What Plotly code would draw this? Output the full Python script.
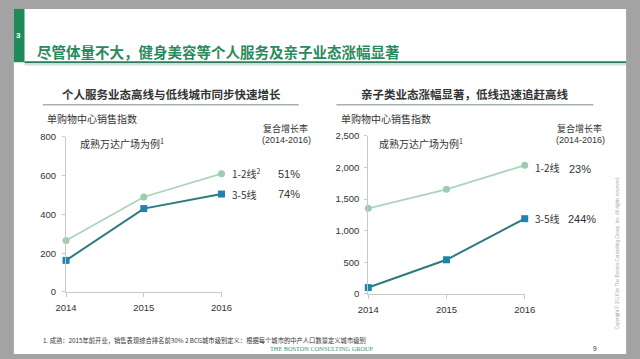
import plotly.graph_objects as go

W, H = 640, 359

years = [2014, 2015, 2016]
left_hi = [265, 490, 610]      # 1-2线
left_lo = [163, 430, 505]      # 3-5线
right_hi = [1355, 1655, 2035]  # 1-2线
right_lo = [100, 540, 1190]    # 3-5线
left_cagr = ["51%", "74%"]
right_cagr = ["23%", "244%"]

title = "尽管体量不大，健身美容等个人服务及亲子业态涨幅显著"
sub_left = "个人服务业态高线与低线城市同步快速增长"
sub_right = "亲子类业态涨幅显著，低线迅速追赶高线"
ylab = "单购物中心销售指数"
note = "成熟万达广场为例<sup>1</sup>"
cagr_title = "复合增长率"
cagr_period = "(2014-2016)"
footnote = "1. 成熟：2015年前开业，销售表现综合排名前30% 2 BCG城市级别定义：根据每个城市的中产人口数量定义城市级别"

HI_LINE = "#a9d6ba"
HI_MARK = "#9ccdb0"
LO_LINE = "#2b7b80"
LO_MARK = "#1f84aa"
GREEN = "#2a8a5c"
TXT = "#333333"
CJK = "Noto Sans CJK SC"
LAT = "Liberation Sans, Arial"

def px(x):
    return x / W

def py(y):
    return 1 - y / H

fig = go.Figure()

fig.add_trace(go.Scatter(x=years, y=left_hi, mode="lines+markers", xaxis="x", yaxis="y",
                         line=dict(color=HI_LINE, width=1.8),
                         marker=dict(symbol="circle", size=7, color=HI_MARK),
                         cliponaxis=False, showlegend=False))
fig.add_trace(go.Scatter(x=years, y=left_lo, mode="lines+markers", xaxis="x", yaxis="y",
                         line=dict(color=LO_LINE, width=2),
                         marker=dict(symbol="square", size=7, color=LO_MARK),
                         cliponaxis=False, showlegend=False))
fig.add_trace(go.Scatter(x=years, y=right_hi, mode="lines+markers", xaxis="x2", yaxis="y2",
                         line=dict(color=HI_LINE, width=1.8),
                         marker=dict(symbol="circle", size=7, color=HI_MARK),
                         cliponaxis=False, showlegend=False))
fig.add_trace(go.Scatter(x=years, y=right_lo, mode="lines+markers", xaxis="x2", yaxis="y2",
                         line=dict(color=LO_LINE, width=2),
                         marker=dict(symbol="square", size=7, color=LO_MARK),
                         cliponaxis=False, showlegend=False))

axcommon = dict(showgrid=False, zeroline=False, showline=True, linecolor="#c8c8c8", linewidth=1,
                ticks="outside", tickcolor="#c8c8c8",
                tickfont=dict(family=LAT, size=9.5, color=TXT))

fig.update_layout(
    width=W, height=H, margin=dict(l=0, r=0, t=0, b=0),
    paper_bgcolor="#a3a3a3", plot_bgcolor="rgba(0,0,0,0)",
    xaxis=dict(domain=[px(57), px(218)], range=[2014, 2016], tickvals=years, anchor="y",
               ticklen=4, ticklabelstandoff=3, **axcommon),
    yaxis=dict(domain=[py(295), py(135)], range=[0, 800], dtick=200, anchor="x",
               ticklen=3, ticklabelstandoff=4, **axcommon),
    xaxis2=dict(domain=[px(370), px(532)], range=[2014, 2016], tickvals=years, anchor="y2",
                ticklen=4, ticklabelstandoff=3, **axcommon),
    yaxis2=dict(domain=[py(297), py(134)], range=[0, 2500], dtick=500, tickformat=",", anchor="x2",
                ticklen=3, ticklabelstandoff=3, **axcommon),
)

shapes = []
shapes.append(dict(type="rect", xref="paper", yref="paper", x0=px(3), x1=px(637), y0=py(359), y1=py(3),
                   fillcolor="white", line=dict(width=0), layer="below"))
shapes.append(dict(type="rect", xref="paper", yref="paper", x0=px(3), x1=px(14), y0=py(58), y1=py(3),
                   fillcolor="#1f8a5a", line=dict(width=0), layer="below"))
shapes.append(dict(type="line", xref="paper", yref="paper", x0=px(14), x1=px(637), y0=py(58), y1=py(58),
                   line=dict(color="#2e7a5e", width=2)))
shapes.append(dict(type="line", xref="paper", yref="paper", x0=px(14), x1=px(637), y0=py(60.5), y1=py(60.5),
                   line=dict(color="#cfe3da", width=1.5)))
shapes.append(dict(type="line", xref="paper", yref="paper", x0=px(33), x1=px(298), y0=py(102), y1=py(102),
                   line=dict(color="#a7b0b0", width=1.5)))
shapes.append(dict(type="line", xref="paper", yref="paper", x0=px(337), x1=px(603), y0=py(102), y1=py(102),
                   line=dict(color="#a7b0b0", width=1.5)))
fig.update_layout(shapes=shapes)

ann = []
def T(x, y, text, size, color=TXT, family=CJK, xanchor="left", bold=False, **kw):
    if bold:
        text = "<b>" + text + "</b>"
    ann.append(dict(xref="paper", yref="paper", x=px(x), y=py(y), text=text, showarrow=False,
                    xanchor=xanchor, yanchor="middle", font=dict(size=size, color=color, family=family),
                    borderpad=0, **kw))

T(8, 30, "3", 8, color="white", family=LAT, xanchor="center", bold=True)
T(26, 47, title, 14.5, color=GREEN, bold=True)

T(166, 91, sub_left, 11.5, xanchor="center", bold=True)
T(470, 91, sub_right, 11.5, xanchor="center", bold=True)

T(36, 116, ylab, 10)
T(341, 116, ylab, 10)

T(70, 142, note, 10)
T(380, 142, note, 10)

T(284, 126, cagr_title, 9, xanchor="center")
T(285, 138.5, cagr_period, 9, family=LAT, xanchor="center")
T(589, 126, cagr_title, 9, xanchor="center")
T(590, 138.5, cagr_period, 9, family=LAT, xanchor="center")

T(228, 173, "1-2线<sup>2</sup>", 10)
T(275, 173, left_cagr[0], 11, family=LAT)
T(228, 194, "3-5线", 10)
T(275, 194, left_cagr[1], 11, family=LAT)
T(542, 167, "1-2线", 10)
T(577, 168, right_cagr[0], 11, family=LAT)
T(542, 219, "3-5线", 10)
T(576, 220, right_cagr[1], 11, family=LAT)

T(32, 345, footnote, 6.3)
T(267, 353, "THE BOSTON CONSULTING GROUP", 6.3, color="#3b8f7a", family="Liberation Serif")
T(605, 353, "9", 6.5, family=LAT, xanchor="center")
ann.append(dict(xref="paper", yref="paper", x=px(628), y=py(255), showarrow=False, textangle=-90,
                text="Copyright © 2016 by The Boston Consulting Group, Inc. All rights reserved.",
                font=dict(size=4.6, color="#a8a8a8", family=LAT), xanchor="center", yanchor="middle"))

fig.update_layout(annotations=ann)
fig.write_html("out.html", config={"displayModeBar": False},
               post_script="document.body.style.margin='0';")
